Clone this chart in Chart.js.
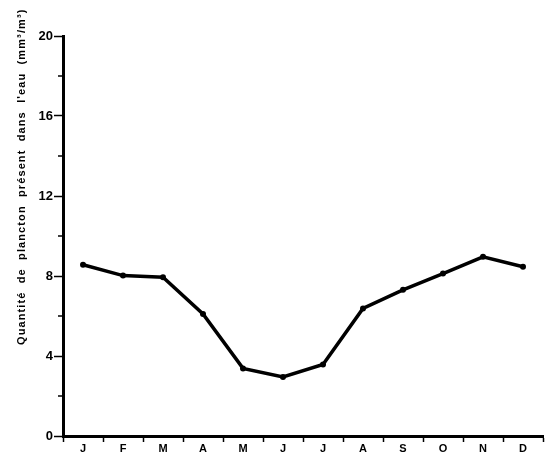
<!DOCTYPE html>
<html lang="fr">
<head>
  <meta charset="UTF-8" />
  <title>Quantité de plancton</title>
  <style>
    body { margin:0; background:#fff; }
    #wrap { width:550px; height:459px; }
  </style>
</head>
<body>
  <div id="wrap"><canvas id="chart" width="550" height="459"></canvas></div>
  <script src="https://cdn.jsdelivr.net/npm/chart.js"></script>
  <script>
  // data
  const months = ['J','F','M','A','M','J','J','A','S','O','N','D'];
  const plankton = [8.56, 8.02, 7.94, 6.1, 3.38, 2.95, 3.58, 6.38, 7.31, 8.12, 8.96, 8.46];
  const yTicks = [0, 4, 8, 12, 16, 20];
  const yMinor = [2, 6, 10, 14, 18];
  const yTitle = "Quantité  de  plancton  présent  dans  l'eau  (mm³/m³)";

  const FONT = '"Liberation Sans", Arial, sans-serif';

  // short minor ticks + rotated axis title
  const extras = {
    id: 'extras',
    afterDraw(chart) {
      const c = chart.ctx, y = chart.scales.y, left = chart.chartArea.left;
      c.save();
      c.strokeStyle = '#000'; c.lineWidth = 1.5;
      yMinor.forEach(v => {
        const py = y.getPixelForValue(v);
        c.beginPath(); c.moveTo(left - 5, py); c.lineTo(left, py); c.stroke();
      });
      c.translate(22, 345);
      c.rotate(-Math.PI / 2);
      c.font = 'bold 11px ' + FONT;
      c.letterSpacing = '1.1px';
      c.fillStyle = '#000';
      c.textAlign = 'left';
      c.textBaseline = 'middle';
      c.fillText(yTitle, 0, 0);
      c.restore();
    }
  };

  new Chart(document.getElementById('chart'), {
    type: 'line',
    data: {
      labels: months,
      datasets: [{
        data: plankton,
        borderColor: '#000',
        backgroundColor: '#000',
        borderWidth: 3.5,
        pointRadius: 3,
        pointBorderWidth: 0,
        tension: 0,
        fill: false
      }]
    },
    options: {
      responsive: false,
      animation: false,
      layout: { padding: { top: 36, right: 7, left: 0, bottom: 0 } },
      plugins: { legend: { display: false }, tooltip: { enabled: false } },
      scales: {
        x: {
          type: 'category',
          offset: true,
          border: { display: true, color: '#000', width: 3 },
          grid: { display: true, offset: true, drawOnChartArea: false, drawTicks: true,
                  tickLength: 6, tickColor: '#000', tickWidth: 1.5 },
          ticks: { color: '#000', font: { family: FONT, size: 11, weight: 'bold' },
                   padding: 0, maxRotation: 0 },
          afterFit(s) { s.height = 23; }
        },
        y: {
          min: 0, max: 20,
          afterBuildTicks(s) { s.ticks = yTicks.map(v => ({ value: v })); },
          border: { display: true, color: '#000', width: 3 },
          grid: { display: true, drawOnChartArea: false, drawTicks: true,
                  tickLength: 9, tickColor: '#000', tickWidth: 1.5 },
          ticks: { color: '#000', font: { family: FONT, size: 13, weight: 'bold' }, padding: 1 },
          afterFit(s) { s.width = 63; }
        }
      }
    },
    plugins: [extras]
  });
  </script>
</body>
</html>
